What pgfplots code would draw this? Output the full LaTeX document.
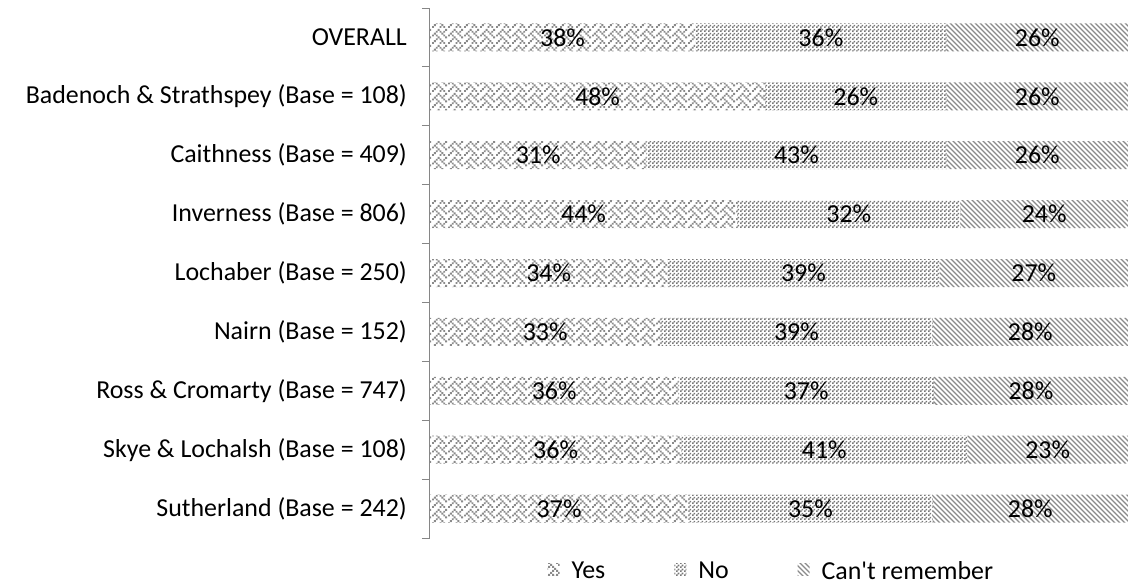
\documentclass[border=0pt]{standalone}
\usepackage{fontspec}
\setmainfont{Carlito}
\usepackage{pgfplots}
\pgfplotsset{compat=1.18}
\usepackage{pgfplotstable}
\usetikzlibrary{patterns}
\definecolor{axisgray}{HTML}{868686}
\definecolor{yesgray}{HTML}{8A8A8A}
\definecolor{nogray}{HTML}{777777}
\definecolor{cantgray}{HTML}{8A8A8A}

% Excel-like fill patterns
\newcommand{\wv}[2]{\pgfpathrectangle{\pgfpoint{#1bp}{#2bp}}{\pgfpoint{2bp}{2bp}}}
\pgfdeclarepatternformonly{weavep}{\pgfpointorigin}{\pgfpoint{16bp}{16bp}}{\pgfpoint{16bp}{16bp}}{%
  \wv{6}{14}\wv{14}{14}
  \wv{4}{12}\wv{8}{12}\wv{12}{12}
  \wv{2}{10}\wv{10}{10}
  \wv{0}{8}\wv{4}{8}\wv{12}{8}
  \wv{6}{6}\wv{14}{6}
  \wv{4}{4}\wv{8}{4}
  \wv{2}{2}\wv{10}{2}
  \wv{0}{0}\wv{8}{0}\wv{12}{0}
  \pgfusepath{fill}}
\pgfdeclarepatternformonly{checkp}{\pgfpointorigin}{\pgfpoint{4bp}{4bp}}{\pgfpoint{4bp}{4bp}}{%
  \pgfpathrectangle{\pgfpointorigin}{\pgfpoint{2bp}{2bp}}
  \pgfpathrectangle{\pgfpoint{2bp}{2bp}}{\pgfpoint{2bp}{2bp}}
  \pgfusepath{fill}}
\pgfdeclarepatternformonly{nwlines}{\pgfpoint{-1bp}{-1bp}}{\pgfpoint{6bp}{6bp}}{\pgfpoint{5bp}{5bp}}{%
  \pgfsetlinewidth{1.1bp}
  \pgfpathmoveto{\pgfpoint{-0.1bp}{5.1bp}}
  \pgfpathlineto{\pgfpoint{5.1bp}{-0.1bp}}
  \pgfusepath{stroke}}

\newcommand{\chartfont}{\fontsize{26}{30}\selectfont}

\pgfplotstableread{
idx yes  no   cant
0   38   36   26
1   48   26   26
2   31   43   26
3   44   32   24
4   34   39   27
5   33   39   28
6   35.6 36.6 27.8
7   36   41   23
8   37   35   28
}\shares

\begin{document}
\begin{tikzpicture}
\begin{axis}[
  at={(0,0)}, anchor=south west,
  scale only axis, width=698bp, height=530bp,
  xbar stacked, bar width=28bp,
  xmin=0, xmax=100, ymin=-0.5, ymax=8.5, y dir=reverse,
  hide x axis, axis y line*=left,
  ytick={0,...,8},
  yticklabels={OVERALL, Badenoch \& Strathspey (Base = 108), Caithness (Base = 409),
    Inverness (Base = 806), Lochaber (Base = 250), Nairn (Base = 152),
    Ross \& Cromarty (Base = 747), Skye \& Lochalsh (Base = 108), Sutherland (Base = 242)},
  minor ytick={-0.5,0.5,...,8.5},
  major tick length=0pt, minor tick length=8bp,
  ytick align=outside, ytick pos=left,
  y axis line style={draw=axisgray, line width=1bp},
  minor tick style={draw=axisgray, line width=1bp},
  yticklabel style={font=\chartfont, inner sep=0pt, xshift=-23bp},
  /pgf/number format/assume math mode=true,
  point meta=explicit,
  nodes near coords={\pgfmathprintnumber[fixed,precision=0]{\pgfplotspointmeta}\%},
  every node near coord/.append style={font=\chartfont, anchor=center},
  legend style={at={(0.489,-0.04)}, anchor=north, draw=none, fill=none, inner sep=0pt,
    font=\chartfont, legend columns=3,
    /tikz/every odd column/.append style={column sep=10bp},
    /tikz/every even column/.append style={column sep=67bp}},
  legend image code/.code={\path[#1, draw=none] (0bp,-4bp) rectangle (12bp,8bp);},
]
\addplot[draw=none, pattern=weavep, pattern color=yesgray]
  table[x=yes, y=idx, meta=yes] {\shares};
\addplot[draw=none, pattern=checkp, pattern color=nogray]
  table[x=no, y=idx, meta=no] {\shares};
\addplot[draw=none, pattern=nwlines, pattern color=cantgray]
  table[x=cant, y=idx, meta=cant] {\shares};
\legend{Yes, No, Can\textquotesingle t remember}
\end{axis}
\pgfresetboundingbox
\path[use as bounding box] (-430bp,-50bp) rectangle (698bp,538bp);
\end{tikzpicture}
\end{document}
